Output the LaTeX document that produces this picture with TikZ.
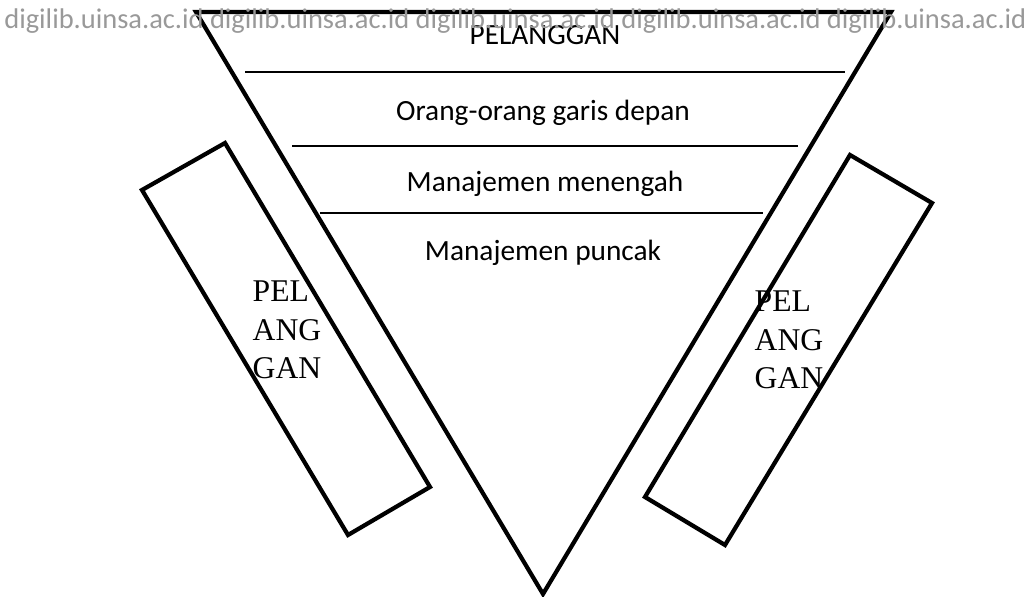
\documentclass[tikz,border=0pt]{standalone}
\usepackage{fontspec}
\setmainfont{Carlito}
\newfontfamily\timesfont{Liberation Serif}

\tikzset{
  layer/.style={font=\fontsize{16.7}{20}\selectfont, inner sep=0pt},
  sidetext/.style={font=\timesfont\fontsize{18}{21.8}\selectfont, align=left, inner sep=0pt},
  thick line/.style={line width=2.4pt, line join=miter},
}

\begin{document}
\begin{tikzpicture}

\useasboundingbox (0, 0) rectangle (20.58, 11.92);

\def\x{10.86}
\def\y{0.04}

% piramida terbalik
\draw[thick line] (\x + -6.94, \y + 11.64) -- (\x + 6.96, \y + 11.64) -- (\x + 0, \y + 0) -- cycle;

\draw[line width=1.3pt] (\x + -5.96, \y + 10.44) -- (\x + 6.04, \y + 10.44);
\draw[line width=1.3pt] (\x + -5.02, \y + 8.96) -- (\x + 5.10, \y + 8.96);
\draw[line width=1.3pt] (\x + -4.46, \y + 7.62) -- (\x + 4.40, \y + 7.62);

\node[layer] (pelanggan) at (\x + 0.04, \y + 11.18) {PELANGGAN};
\node[layer] (depan) at (\x + 0, \y + 9.62) {Orang-orang garis depan};
\node[layer] (menengah) at (\x + 0.04, \y + 8.2) {Manajemen menengah};
\node[layer] (puncak) at (\x + 0, \y + 6.82) {Manajemen puncak};

% kiri
\draw[thick line] (2.84, 8.12) -- (4.50, 9.06) -- (8.60, 2.18) -- (6.96, 1.22) -- cycle;
\node[sidetext] (kiri) at (5.74, 5.32) {PEL\\ANG\\GAN};

% kanan
\draw[thick line] (17.00, 8.82) -- (18.64, 7.86) -- (14.50, 1.02) -- (12.90, 1.98) -- cycle;
\node[sidetext] (kanan) at (15.78, 5.12) {PEL\\ANG\\GAN};

% watermark
\node[anchor=west, inner sep=0pt, text=black!40, font=\fontsize{16.2}{19}\selectfont] (wm) at (0.08, 11.49)
  {digilib.uinsa.ac.id digilib.uinsa.ac.id digilib.uinsa.ac.id digilib.uinsa.ac.id digilib.uinsa.ac.id};

\end{tikzpicture}
\end{document}
